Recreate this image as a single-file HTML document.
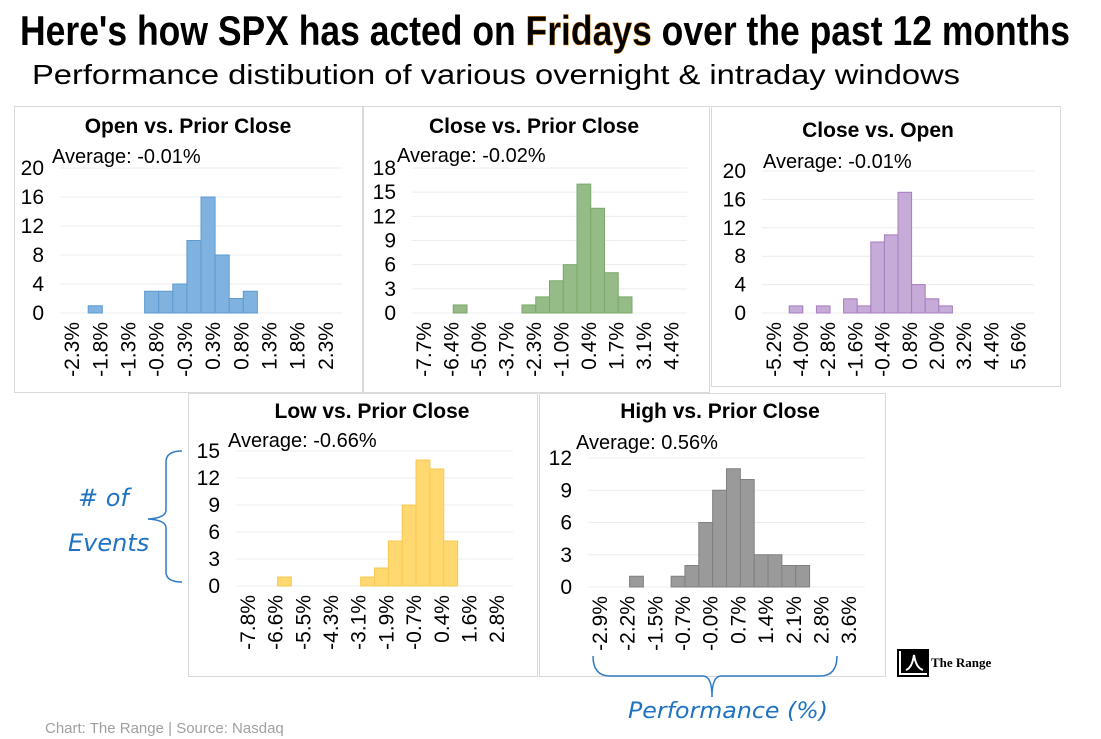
<!DOCTYPE html>
<html><head><meta charset="utf-8"><style>
html,body{margin:0;padding:0;background:#fff;}
svg{display:block;font-family:"Liberation Sans",sans-serif;}
</style></head><body>
<svg id="chart" width="1101" height="739" viewBox="0 0 1101 739">
<text x="20" y="45" font-size="42" font-weight="bold" font-family="'Liberation Sans Narrow','Liberation Sans',sans-serif" textLength="1050" lengthAdjust="spacingAndGlyphs">Here's how SPX has acted on <tspan fill="#000" stroke="#e07b00" stroke-width="0.5">Fridays</tspan> over the past 12 months</text>
<text x="32" y="84" font-size="28" font-family="'Liberation Sans Narrow','Liberation Sans',sans-serif" textLength="928" lengthAdjust="spacingAndGlyphs">Performance distibution of various overnight &amp; intraday windows</text>
<g id="panels"></g>
<path d="M182,451 Q166,451 166,462 L166,510 Q166,518 148,519 Q166,520 166,528 L166,572 Q166,582 182,582" fill="none" stroke="#2f7cc4" stroke-width="1.5"/>
<text x="78" y="506" font-size="24" font-style="italic" fill="#1f73c2" font-family="'DejaVu Sans',sans-serif">#  of</text>
<text x="68" y="551" font-size="24" font-style="italic" fill="#1f73c2" font-family="'DejaVu Sans',sans-serif">Events</text>
<path d="M593,656 Q593,676 610,676 L703,676 Q712,676 712,697 Q712,676 721,676 L820,676 Q837,676 837,656" fill="none" stroke="#2f7cc4" stroke-width="1.5"/>
<text x="628" y="718" font-size="22" font-style="italic" fill="#1f73c2" font-family="'DejaVu Sans',sans-serif" textLength="200" lengthAdjust="spacingAndGlyphs">Performance (%)</text>
<g>
<rect x="898" y="650" width="30" height="26" fill="#fff" stroke="#000" stroke-width="2"/>
<rect x="901" y="650" width="27" height="23" fill="#000"/>
<path d="M906,670 Q912,668 914,655 Q916,668 923,670" fill="none" stroke="#fff" stroke-width="2"/>
<text x="931" y="667" font-size="13" font-weight="bold" font-family="'Liberation Serif',serif">The Range</text>
</g>
<text x="45" y="733" font-size="15" fill="#a0a0a0">Chart: The Range | Source: Nasdaq</text>
</svg>
<script>
const openVsPriorCounts=[0,0,1,0,0,0,3,3,4,10,16,8,2,3,0,0,0,0,0,0];
const openVsPriorTicks=["-2.3%","-1.8%","-1.3%","-0.8%","-0.3%","0.3%","0.8%","1.3%","1.8%","2.3%"];
const openVsPriorY=[0,4,8,12,16,20];
const closeVsPriorCounts=[0,0,0,1,0,0,0,0,1,2,4,6,16,13,5,2,0,0,0,0];
const closeVsPriorTicks=["-7.7%","-6.4%","-5.0%","-3.7%","-2.3%","-1.0%","0.4%","1.7%","3.1%","4.4%"];
const closeVsPriorY=[0,3,6,9,12,15,18];
const closeVsOpenCounts=[0,0,1,0,1,0,2,1,10,11,17,4,2,1,0,0,0,0,0,0];
const closeVsOpenTicks=["-5.2%","-4.0%","-2.8%","-1.6%","-0.4%","0.8%","2.0%","3.2%","4.4%","5.6%"];
const closeVsOpenY=[0,4,8,12,16,20];
const lowVsPriorCounts=[0,0,0,1,0,0,0,0,0,1,2,5,9,14,13,5,0,0,0,0];
const lowVsPriorTicks=["-7.8%","-6.6%","-5.5%","-4.3%","-3.1%","-1.9%","-0.7%","0.4%","1.6%","2.8%"];
const lowVsPriorY=[0,3,6,9,12,15];
const highVsPriorCounts=[0,0,0,1,0,0,1,2,6,9,11,10,3,3,2,2,0,0,0,0];
const highVsPriorTicks=["-2.9%","-2.2%","-1.5%","-0.7%","-0.0%","0.7%","1.4%","2.1%","2.8%","3.6%"];
const highVsPriorY=[0,3,6,9,12];

const NS="http://www.w3.org/2000/svg";
function mk(tag,attrs,parent){const e=document.createElementNS(NS,tag);for(const k in attrs)e.setAttribute(k,attrs[k]);if(parent)parent.appendChild(e);return e;}
const panels=[
 {name:"open-vs-prior-close",title:"Open vs. Prior Close",avg:"Average: -0.01%",counts:openVsPriorCounts,ticks:openVsPriorTicks,yt:openVsPriorY,box:[14,106,348,286],x0:60,x1:342,yTop:168,yBot:313,tx:188,ty:133,ax:52,ay:163,fill:"#7fb2de",stroke:"#5d9bd2"},
 {name:"close-vs-prior-close",title:"Close vs. Prior Close",avg:"Average: -0.02%",counts:closeVsPriorCounts,ticks:closeVsPriorTicks,yt:closeVsPriorY,box:[363,106,346,286],x0:412,x1:687,yTop:168,yBot:313,tx:534,ty:133,ax:397,ay:162,fill:"#95bb87",stroke:"#7aa86a"},
 {name:"close-vs-open",title:"Close vs. Open",avg:"Average:  -0.01%",counts:closeVsOpenCounts,ticks:closeVsOpenTicks,yt:closeVsOpenY,box:[711,106,349,280],x0:762,x1:1034,yTop:171,yBot:313,tx:878,ty:137,ax:763,ay:168,fill:"#c6aad8",stroke:"#a77dbf"},
 {name:"low-vs-prior-close",title:"Low vs. Prior Close",avg:"Average: -0.66%",counts:lowVsPriorCounts,ticks:lowVsPriorTicks,yt:lowVsPriorY,box:[188,393,349,283],x0:236,x1:513,yTop:451,yBot:586,tx:372,ty:418,ax:228,ay:447,fill:"#ffd870",stroke:"#f7c955"},
 {name:"high-vs-prior-close",title:"High vs. Prior Close",avg:"Average: 0.56%",counts:highVsPriorCounts,ticks:highVsPriorTicks,yt:highVsPriorY,box:[539,393,346,283],x0:588,x1:865,yTop:458,yBot:587,tx:720,ty:418,ax:576,ay:449,fill:"#9a9a9a",stroke:"#808080"}
];
const root=document.getElementById('panels');
panels.forEach(p=>{
 const g=mk('g',{},root);
 
 
 const b=mk('rect',{x:p.box[0]+0.5,y:p.box[1]+0.5,width:p.box[2],height:p.box[3],fill:'#fff',stroke:'#d9d9d9'},g);
 
 
 const ymax=p.yt[p.yt.length-1];
 const ys=v=>p.yBot-(v/ymax)*(p.yBot-p.yTop);
 const n=p.counts.length, bw=(p.x1-p.x0)/n;
 const xs=i=>p.x0+i*bw;
 p.yt.forEach(v=>{
  const gl=mk('line',{x1:p.x0,x2:p.x1,y1:ys(v),y2:ys(v),stroke:'#ececec'},g);
  
  
  const t=mk('text',{x:p.x0-16,y:ys(v)+7,'text-anchor':'end','font-size':21},g);
  
  
  t.textContent=v;
 });
 p.counts.forEach((c,i)=>{
  if(!c)return;
  const r=mk('rect',{x:xs(i),y:ys(c),width:bw,height:ys(0)-ys(c),fill:p.fill,stroke:p.stroke,'stroke-width':1},g);
  
  
 });
 p.ticks.forEach((lab,k)=>{
  const cx=xs(k*2)+bw/2+12, cy=p.yBot+9;
  const t=mk('text',{x:cx,y:cy,'text-anchor':'end','font-size':21,transform:`rotate(-90 ${cx} ${cy})`},g);
  
  
  t.textContent=lab;
 });
 const tt=mk('text',{x:p.tx,y:p.ty,'text-anchor':'middle','font-size':21,'font-weight':'bold'},g);
 
 
 tt.textContent=p.title;
 const at=mk('text',{x:p.ax,y:p.ay,'font-size':20},g);
 
 
 at.textContent=p.avg;
});
</script>
</body></html>
